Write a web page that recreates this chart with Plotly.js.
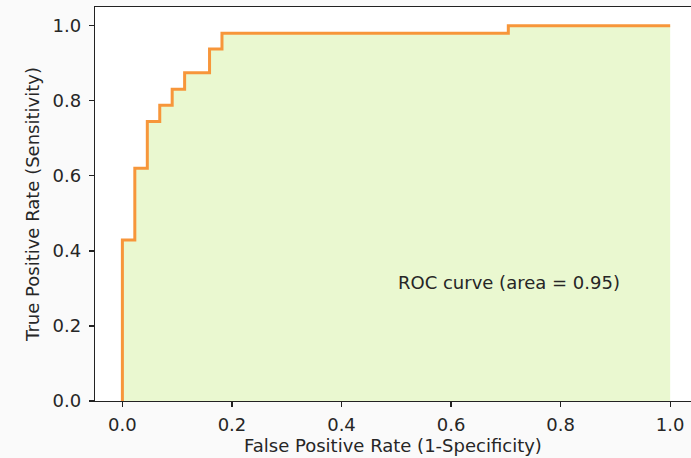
<!DOCTYPE html>
<html>
<head>
<meta charset="utf-8">
<script src="https://cdn.plot.ly/plotly-3.0.1.min.js"></script>
<style>html,body{margin:0;padding:0;background:#fafafa;}</style>
</head>
<body>
<div id="chart" style="width:691px;height:458px;"></div>
<script>
const fpr = [0.0, 0.0, 0.0227, 0.0455, 0.0682, 0.0909, 0.1136, 0.1591, 0.1818, 0.7045, 1.0];
const tpr = [0.0, 0.429, 0.620, 0.745, 0.788, 0.831, 0.875, 0.938, 0.980, 1.0, 1.0];
const aucLabel = "ROC curve (area = 0.95)";
const xTitle = "False Positive Rate (1-Specificity)";
const yTitle = "True Positive Rate (Sensitivity)";

const font = {family: "DejaVu Sans, sans-serif", size: 18, color: "#262626"};

const trace = {
  x: fpr, y: tpr, type: "scatter", mode: "lines",
  line: {shape: "hv", color: "#f7963a", width: 3},
  fill: "tozeroy", fillcolor: "#eaf8d0",
  hoverinfo: "skip", showlegend: false
};

const layout = {
  width: 691, height: 458,
  paper_bgcolor: "#fafafa", plot_bgcolor: "#ffffff",
  font: font,
  margin: {l: 94.5, r: 0, t: 7, b: 57, autoexpand: false},
  showlegend: false,
  xaxis: {
    range: [-0.05, 1.038], tickvals: [0, 0.2, 0.4, 0.6, 0.8, 1.0], tickformat: ".1f",
    showgrid: false, zeroline: false, showline: true, mirror: true,
    linecolor: "#222", linewidth: 1.3, ticks: "outside", ticklen: 5, tickwidth: 1.2, tickcolor: "#222",
    tickfont: font, ticklabelstandoff: 2,
    title: {text: xTitle, font: font, standoff: 4}
  },
  yaxis: {
    range: [0, 1.05], tickvals: [0, 0.2, 0.4, 0.6, 0.8, 1.0], tickformat: ".1f",
    showgrid: false, zeroline: false, showline: true, mirror: false,
    linecolor: "#222", linewidth: 1.3, ticks: "outside", ticklen: 5, tickwidth: 1.2, tickcolor: "#222",
    tickfont: font, ticklabelstandoff: 4,
    title: {text: yTitle, font: font, standoff: 8}
  },
  annotations: [{
    x: 0.5, y: 0.315, xref: "x", yref: "y", text: aucLabel, showarrow: false,
    xanchor: "left", yanchor: "middle", font: font
  }]
};

Plotly.newPlot("chart", [trace], layout, {displayModeBar: false, staticPlot: true});
</script>
</body>
</html>
